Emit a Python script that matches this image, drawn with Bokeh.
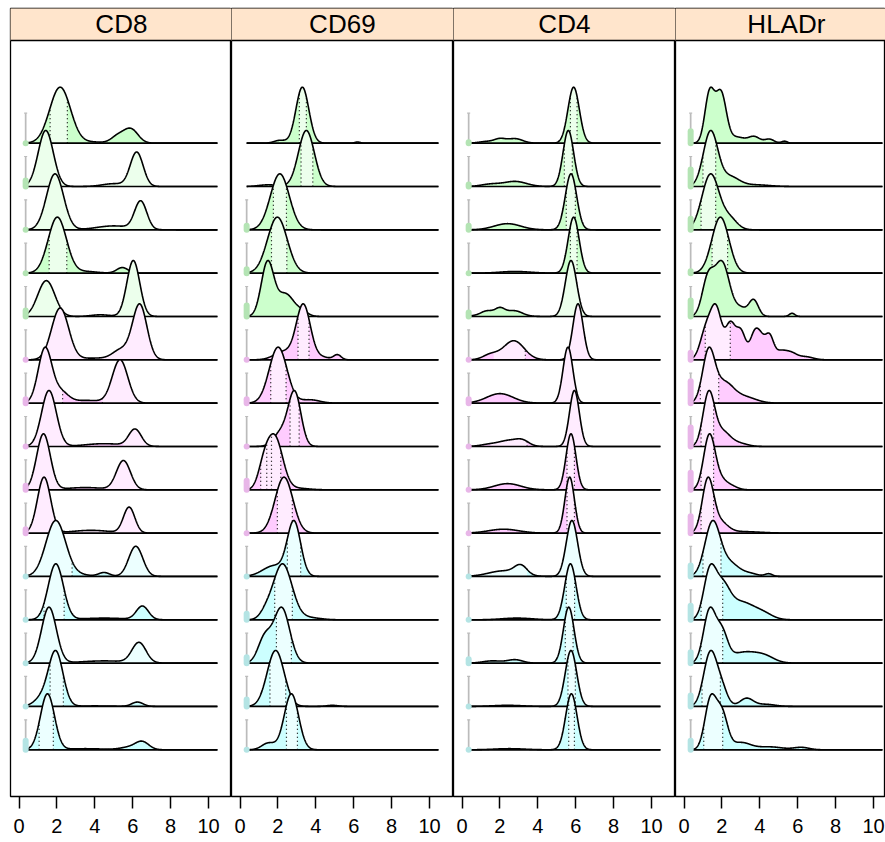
import numpy as np
from bokeh.plotting import figure
from bokeh.layouts import gridplot
from bokeh.models import Range1d, FixedTicker, Span
from bokeh.embed import file_html
from bokeh.resources import INLINE
from bokeh.core.properties import value

# ---------------- data ----------------
channels = ["CD8", "CD69", "CD4", "HLADr"]
x_ticks = [0, 2, 4, 6, 8, 10]
row_groups = [0] * 5 + [1] * 5 + [2] * 5          # 15 samples, 3 groups
dark_fill = ["#CCFFCC", "#FFCCFF", "#CCFFFF"]
light_fill = ["#ECFFEC", "#FFECFF", "#ECFFFF"]
margin_fill = ["#B4E4B4", "#E8B6E8", "#B4E4E4"]

# density peaks per sample (row, top to bottom): [location, spread, relative height]
cd8_peaks = [
    [[2.17, 0.55, 1.0], [5.2, 0.35, 0.12], [5.9, 0.38, 0.25], [3.9, 0.5, 0.02]],
    [[1.41, 0.40, 1.0], [6.21, 0.34, 0.61], [5.0, 0.6, 0.05]],
    [[1.90, 0.45, 1.0], [6.42, 0.32, 0.5], [5.0, 0.9, 0.07]],
    [[2.02, 0.48, 1.0], [5.45, 0.3, 0.1], [3.5, 0.6, 0.03]],
    [[1.44, 0.45, 0.64], [6.03, 0.34, 1.0], [4.3, 0.5, 0.03]],
    [[2.17, 0.45, 0.94], [6.37, 0.38, 1.0], [5.4, 0.45, 0.18], [4.0, 0.8, 0.03]],
    [[1.37, 0.36, 1.0], [2.2, 0.4, 0.2], [5.33, 0.41, 0.79], [3.6, 0.8, 0.05]],
    [[1.58, 0.39, 1.0], [6.12, 0.33, 0.3], [4.5, 1.0, 0.05]],
    [[1.29, 0.36, 1.0], [5.51, 0.37, 0.52], [3.5, 1.0, 0.04]],
    [[1.32, 0.35, 1.0], [5.81, 0.30, 0.46], [3.8, 1.0, 0.05]],
    [[1.94, 0.52, 1.0], [4.49, 0.3, 0.07], [6.16, 0.37, 0.54], [3.2, 0.5, 0.03]],
    [[1.94, 0.40, 1.0], [6.51, 0.32, 0.24], [4.5, 1.2, 0.03]],
    [[1.58, 0.39, 1.0], [6.33, 0.37, 0.36], [4.5, 1.2, 0.04]],
    [[1.94, 0.38, 1.0], [1.2, 0.4, 0.15], [6.25, 0.3, 0.08], [4.0, 1.0, 0.01]],
    [[1.50, 0.37, 1.0], [6.51, 0.35, 0.13], [5.9, 0.5, 0.05], [3.5, 1.0, 0.02]],
]
cd69_peaks = [
    [[3.29, 0.34, 1.0], [2.1, 0.3, 0.05], [6.2, 0.15, 0.02]],
    [[3.50, 0.42, 1.0], [1.5, 0.5, 0.03]],
    [[2.10, 0.50, 1.0]],
    [[1.97, 0.52, 1.0]],
    [[1.45, 0.33, 1.0], [2.4, 0.45, 0.42], [3.3, 0.3, 0.08]],
    [[3.34, 0.37, 1.0], [2.3, 0.5, 0.15], [5.14, 0.2, 0.09], [4.3, 0.4, 0.05]],
    [[2.01, 0.47, 1.0], [3.7, 0.5, 0.06]],
    [[2.89, 0.33, 1.0], [2.2, 0.4, 0.28]],
    [[1.83, 0.42, 1.0], [1.25, 0.3, 0.35], [3.0, 0.6, 0.03]],
    [[2.32, 0.47, 1.0]],
    [[2.85, 0.35, 1.0], [1.8, 0.6, 0.2]],
    [[2.24, 0.50, 1.0], [1.35, 0.3, 0.1], [3.6, 0.6, 0.04]],
    [[2.20, 0.42, 1.0], [1.3, 0.35, 0.45]],
    [[1.88, 0.45, 1.0], [4.87, 0.3, 0.02]],
    [[2.71, 0.38, 1.0], [1.5, 0.35, 0.12]],
]
cd4_peaks = [
    [[5.89, 0.30, 1.0], [2.0, 0.3, 0.07], [2.8, 0.4, 0.08], [1.3, 0.4, 0.03]],
    [[5.61, 0.28, 1.0], [2.8, 0.6, 0.09], [1.5, 0.5, 0.04]],
    [[5.75, 0.30, 1.0], [2.4, 0.7, 0.11]],
    [[5.89, 0.29, 1.0], [2.8, 0.8, 0.03]],
    [[5.75, 0.30, 1.0], [2.0, 0.25, 0.1], [1.3, 0.3, 0.06], [2.8, 0.4, 0.08], [1.8, 0.8, 0.05]],
    [[6.12, 0.27, 1.0], [2.73, 0.55, 0.34], [1.5, 0.4, 0.09]],
    [[5.59, 0.26, 1.0], [2.0, 0.7, 0.17]],
    [[5.93, 0.26, 1.0], [2.5, 0.5, 0.1], [3.2, 0.35, 0.09], [1.5, 0.5, 0.04]],
    [[5.75, 0.26, 1.0], [2.4, 0.7, 0.11]],
    [[5.68, 0.25, 1.0], [2.2, 0.8, 0.07]],
    [[5.80, 0.30, 1.0], [3.1, 0.33, 0.16], [2.2, 0.8, 0.1]],
    [[5.72, 0.30, 1.0], [2.9, 0.8, 0.03]],
    [[5.63, 0.28, 1.0], [2.8, 0.4, 0.06], [1.6, 0.5, 0.04]],
    [[5.75, 0.30, 1.0], [2.4, 0.8, 0.02]],
    [[5.77, 0.30, 1.0], [2.5, 0.8, 0.02]],
]
hladr_peaks = [
    [[1.35, 0.25, 1.0], [1.95, 0.28, 1.0], [3.7, 0.3, 0.13], [4.5, 0.25, 0.08], [5.3, 0.15, 0.04], [2.8, 0.4, 0.12]],
    [[1.4, 0.38, 1.0], [2.4, 0.5, 0.18], [3.8, 0.7, 0.03]],
    [[1.4, 0.45, 1.0], [2.4, 0.4, 0.2]],
    [[1.92, 0.45, 1.0]],
    [[1.25, 0.3, 0.55], [2.0, 0.4, 0.85], [3.67, 0.25, 0.26], [3.0, 0.3, 0.12], [5.7, 0.15, 0.05]],
    [[1.15, 0.3, 0.45], [1.7, 0.3, 0.8], [2.45, 0.25, 0.55], [3.0, 0.25, 0.45], [3.75, 0.25, 0.45],
     [4.1, 0.2, 0.2], [4.5, 0.22, 0.38], [5.1, 0.3, 0.13], [5.65, 0.3, 0.1], [6.4, 0.4, 0.05]],
    [[1.3, 0.32, 1.0], [2.1, 0.5, 0.4], [3.2, 0.6, 0.12]],
    [[1.3, 0.30, 1.0], [2.0, 0.45, 0.3], [3.0, 0.4, 0.05]],
    [[1.33, 0.30, 1.0], [1.9, 0.4, 0.2], [2.6, 0.3, 0.04]],
    [[1.26, 0.30, 1.0], [1.9, 0.4, 0.2], [3.0, 1.0, 0.03]],
    [[1.5, 0.40, 1.0], [2.4, 0.5, 0.25], [3.5, 0.4, 0.05], [4.47, 0.2, 0.05]],
    [[1.35, 0.32, 0.9], [2.0, 0.4, 0.6], [3.0, 0.7, 0.35], [4.2, 0.5, 0.1]],
    [[1.35, 0.32, 0.95], [2.0, 0.3, 0.5], [3.2, 0.8, 0.2], [4.3, 0.5, 0.08]],
    [[1.39, 0.35, 1.0], [2.0, 0.3, 0.3], [3.3, 0.35, 0.15], [4.3, 0.5, 0.04]],
    [[1.4, 0.30, 0.85], [2.0, 0.3, 0.6], [3.0, 0.5, 0.12], [4.5, 0.7, 0.05], [6.2, 0.4, 0.04]],
]

# lighter-shaded intervals and dotted markers per sample
cd8_light = [[[1.64, 2.55]], [[0.35, 10.5]], [[0.35, 10.5]], [[1.59, 2.52]], [[0.35, 10.5]],
             [[0.35, 10.5]], [[0.35, 2.3], [4.4, 10.5]], [[0.35, 2.5], [5.5, 10.5]],
             [[0.35, 2.4], [4.6, 10.5]], [[0.35, 10.5]],
             [[0.35, 2.8], [5.2, 10.5]], [[1.32, 2.38]], [[0.35, 10.5]], [[1.64, 2.34]], [[1.06, 1.81]]]
cd8_dots = [[1.64, 2.55], [], [], [1.59, 2.52], [], [], [2.3, 4.4], [], [2.4], [],
            [2.8], [1.32, 2.38], [], [1.64, 2.34], [1.06, 1.81]]
cd69_light = [[[3.13, 3.5]], [[3.22, 3.84]], [[1.76, 2.45]], [[1.66, 2.47]], [],
              [[3.06, 3.64]], [[1.62, 2.43]], [[2.64, 3.12]], [[1.09, 2.15]], [[1.97, 2.76]],
              [[2.5, 3.2]], [[1.83, 2.76]], [[1.92, 2.71]], [[1.58, 2.41]], [[2.45, 3.03]]]
cd69_dots = [[3.13, 3.5], [3.22, 3.84], [1.76, 2.45], [1.66, 2.47], [],
             [3.06, 3.64], [1.62, 2.43], [2.64, 3.12], [1.09, 1.41, 1.66, 2.15], [1.97, 2.76],
             [2.5, 3.2], [1.83, 2.76], [1.92, 2.71], [1.58, 2.41], [2.45, 3.03]]
cd4_light = [[[5.72, 6.07]], [[5.4, 5.82]], [[5.5, 5.98]], [[5.72, 6.07]], [[4.5, 10.5]],
             [[1.67, 3.34], [4.9, 10.5]], [[4.5, 10.5]], [[1.5, 3.43], [4.5, 10.5]],
             [[5.54, 5.93]], [[5.54, 5.93]],
             [[0.35, 3.43], [4.5, 10.5]], [[5.5, 5.94]], [[5.45, 5.86]], [[5.59, 5.98]], [[5.63, 5.93]]]
cd4_dots = [[5.72, 6.07], [5.4, 5.82], [5.5, 5.98], [5.72, 6.07], [],
            [3.34], [], [3.43], [5.54, 5.93], [5.54, 5.93],
            [], [5.5, 5.94], [5.45, 5.86], [5.59, 5.98], [5.63, 5.93]]
hladr_light = [[], [[1.0, 1.67]], [[0.9, 1.67]], [[1.48, 2.3]], [],
               [[1.12, 2.44]], [[0.86, 1.83]], [[0.9, 1.56]], [[0.9, 1.56]], [[0.9, 1.56]],
               [[1.0, 1.95]], [[0.9, 2.04]], [[0.9, 2.04]], [[0.95, 1.92]], [[1.04, 2.04]]]
hladr_dots = [[], [1.0, 1.67], [0.9, 1.67], [1.48, 2.3], [],
              [1.12, 2.44], [0.86, 1.83], [0.9, 1.56], [0.9, 1.56], [0.9, 1.56],
              [1.0, 1.95], [0.9, 2.04], [0.9, 2.04], [0.95, 1.92], [1.04, 2.04]]

# margin-event indicator heights (px); None = no indicator
cd8_margin = [0, 12, 0, 0, 12, 0, 10, 0, 10, 10, 0, 0, 0, 0, 15]
cd69_margin = [None, None, 10, 10, 17, 0, 10, 0, 15, 5, 0, 12, 12, 13, 0]
cd4_margin = [7, 8, 10, 0, 10, 0, 10, 0, 0, 0, 0, 0, 10, 0, 0]
hladr_margin = [18, 23, 17, 8, 22, 13, 28, 25, 23, 23, 17, 20, 17, 17, 15]

all_peaks = [cd8_peaks, cd69_peaks, cd4_peaks, hladr_peaks]
all_light = [cd8_light, cd69_light, cd4_light, hladr_light]
all_dots = [cd8_dots, cd69_dots, cd4_dots, hladr_dots]
all_margin = [cd8_margin, cd69_margin, cd4_margin, hladr_margin]

# ---------------- layout ----------------
PX_X = 18.95      # px per x unit
PX_Y = 43.33      # px per row
X0 = -0.45
Y0 = -1.078
FRAME_H = 788
Y1 = Y0 + FRAME_H / PX_Y
frame_widths = [221, 222, 222, 210]
H = 56.0 / PX_Y   # ridge height
STRIP_BOTTOM = 16.37
XMIN, XMAX = 0.35, 10.47
xs = np.linspace(XMIN, XMAX, 700)
FONT = "Liberation Sans"


def density(peaks):
    y = np.zeros_like(xs)
    for m, s, a in peaks:
        y += a * np.exp(-0.5 * ((xs - m) / s) ** 2)
    return y / y.max()


plots = []
for pi, name in enumerate(channels):
    fw = frame_widths[pi]
    p = figure(frame_width=fw, frame_height=FRAME_H,
               x_range=Range1d(X0, X0 + fw / PX_X),
               y_range=Range1d(Y0, Y1),
               output_backend="svg", toolbar_location=None,
               y_axis_location=None,
               min_border_left=10 if pi == 0 else 0, min_border_right=0,
               min_border_top=8, min_border_bottom=0)
    p.grid.visible = False
    p.background_fill_color = "white"
    p.border_fill_color = "white"
    p.outline_line_color = "black"
    p.outline_line_width = 1.3

    ax = p.xaxis[0]
    ax.ticker = FixedTicker(ticks=x_ticks)
    ax.axis_line_color = None
    ax.major_tick_in = 0
    ax.major_tick_out = 12
    ax.minor_tick_in = 0
    ax.minor_tick_out = 0
    ax.major_tick_line_width = 1.5
    ax.major_tick_line_color = "black"
    ax.major_label_text_font = FONT
    ax.major_label_text_font_size = "20px"
    ax.major_label_text_color = "black"
    ax.major_label_standoff = 10

    # strip
    p.quad(left=[-2], right=[13], bottom=[STRIP_BOTTOM], top=[20],
           fill_color="#FFE5CC", line_color=None)
    p.add_layout(Span(location=STRIP_BOTTOM, dimension="width",
                      line_color="black", line_width=1.3))
    p.text(x=[5.4], y=[(STRIP_BOTTOM + Y1) / 2], text=[name],
           text_font=value(FONT), text_font_size="26px", text_color="black",
           text_align="center", text_baseline="middle")

    for ri in range(15):
        base = 14 - ri
        g = row_groups[ri]
        y = density(all_peaks[pi][ri])
        top = base + H * y
        # dark fill
        p.patch(np.concatenate([[XMIN], xs, [XMAX]]),
                np.concatenate([[base], top, [base]]),
                fill_color=dark_fill[g], line_color=None)
        # light fill
        for a, b in all_light[pi][ri]:
            a, b = max(a, XMIN), min(b, XMAX)
            m = (xs > a) & (xs < b)
            lx = np.concatenate([[a, a], xs[m], [b, b]])
            ly = np.concatenate([[base, base + H * np.interp(a, xs, y)], top[m],
                                 [base + H * np.interp(b, xs, y), base]])
            p.patch(lx, ly, fill_color=light_fill[g], line_color=None)
        # dotted markers
        d = all_dots[pi][ri]
        if d:
            p.multi_line([[v, v] for v in d],
                         [[base, base + H * np.interp(v, xs, y)] for v in d],
                         line_color="black", line_width=1.2, line_dash="1 3")
        # outline and baseline
        p.line(xs, top, line_color="black", line_width=1.6)
        p.segment(x0=[XMIN], y0=[base], x1=[XMAX], y1=[base],
                  line_color="black", line_width=1.7)
        # margin indicator
        mh = all_margin[pi][ri]
        if mh is not None:
            gh = 30.0 / PX_Y
            p.segment(x0=[XMIN], y0=[base], x1=[XMIN], y1=[base + gh],
                      line_color="#BBBBBB", line_width=1.7)
            p.segment(x0=[XMIN - 0.08], y0=[base + gh], x1=[XMIN + 0.08], y1=[base + gh],
                      line_color="#BBBBBB", line_width=1.2)
            ln = max(mh - 6, 0) / PX_Y
            p.segment(x0=[XMIN], y0=[base], x1=[XMIN], y1=[base + ln + 1e-4],
                      line_color=margin_fill[g], line_width=6, line_cap="round")
    plots.append(p)

grid = gridplot([plots], toolbar_location=None)
open("out.html", "w").write(file_html(grid, INLINE))
